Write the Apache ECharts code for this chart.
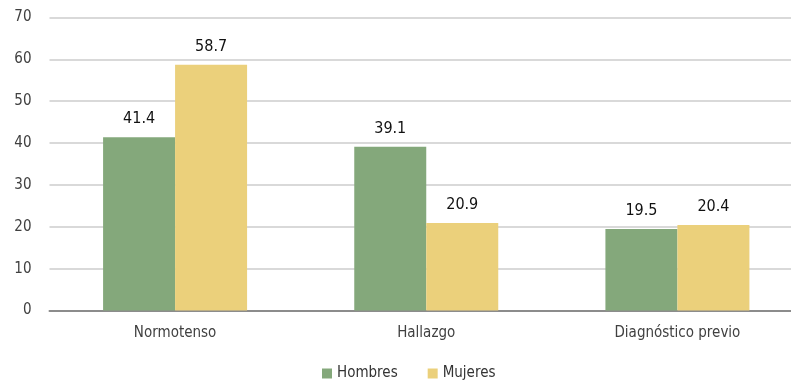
<!DOCTYPE html>
<html><head><meta charset="utf-8">
<script src="https://cdn.jsdelivr.net/npm/echarts@6/dist/echarts.min.js"></script>
<style>html,body{margin:0;padding:0;background:#fff;overflow:hidden;width:791px;height:383px}#c{width:803px;height:383px}</style>
</head><body><div id="c"></div>
<script>
const categories = ["Normotenso", "Hallazgo", "Diagnóstico previo"];
const hombres = [41.4, 39.1, 19.5];
const mujeres = [58.7, 20.9, 20.4];
const yTicks = [0, 10, 20, 30, 40, 50, 60, 70];
const FONT = "'DejaVu Sans Condensed', 'Liberation Sans Narrow', sans-serif";
const chart = echarts.init(document.getElementById('c'), null, {renderer: 'canvas'});
chart.setOption({
  animation: false,
  textStyle: {fontFamily: FONT},
  grid: {left: 49.5, right: 0, top: 17.5, bottom: 72.5, containLabel: false},
  legend: {
    top: 361, left: 317, itemWidth: 10, itemHeight: 10, itemGap: 30,
    icon: 'rect',
    textStyle: {fontFamily: FONT, fontSize: 15, color: '#333'},
    data: ['Hombres', 'Mujeres']
  },
  xAxis: {
    type: 'category', data: categories,
    axisTick: {show: false},
    axisLine: {lineStyle: {color: '#8c8c8c', width: 2}},
    axisLabel: {fontFamily: FONT, fontSize: 15, color: '#404040', margin: 15}
  },
  yAxis: {
    type: 'value', min: yTicks[0], max: yTicks[yTicks.length - 1], interval: 10,
    axisLine: {show: false}, axisTick: {show: false},
    splitLine: {lineStyle: {color: '#d9d9d9', width: 2}},
    axisLabel: {fontFamily: FONT, fontSize: 15, color: '#404040', margin: 18}
  },
  series: [
    {name: 'Hombres', type: 'bar', data: hombres, barWidth: 72, barGap: '0%',
     itemStyle: {color: '#84a87b'},
     label: {show: true, position: 'top', distance: 10, fontFamily: FONT, fontSize: 16, color: '#111', formatter: p => p.value.toFixed(1)}},
    {name: 'Mujeres', type: 'bar', data: mujeres, barWidth: 72,
     itemStyle: {color: '#ebd07b'},
     label: {show: true, position: 'top', distance: 10, fontFamily: FONT, fontSize: 16, color: '#111', formatter: p => p.value.toFixed(1)}}
  ]
});
</script></body></html>
